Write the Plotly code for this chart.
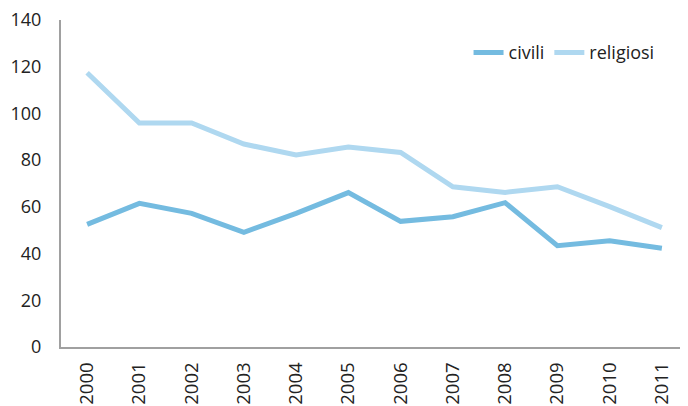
import plotly.graph_objects as go

years = [str(y) for y in range(2000, 2012)]
civili = [52.5, 61.5, 57.2, 49.1, 57.2, 66.1, 53.8, 55.8, 61.8, 43.4, 45.5, 42.3]
religiosi = [117.4, 95.9, 95.9, 86.9, 82.2, 85.6, 83.3, 68.6, 66.2, 68.6, 60.1, 51.1]

fig = go.Figure()
fig.add_trace(go.Scatter(x=years, y=civili, name='civili', mode='lines',
                         line=dict(color='#74bbe0', width=5)))
fig.add_trace(go.Scatter(x=years, y=religiosi, name='religiosi', mode='lines',
                         line=dict(color='#afd8f0', width=5)))

# page body has an 8px margin, so the figure is a bit smaller
fig.update_layout(
    width=680, height=398,
    margin=dict(l=53, r=0, t=12, b=59),
    paper_bgcolor='white', plot_bgcolor='white',
    font=dict(family='Open Sans, sans-serif', color='#222', size=18),
    legend=dict(orientation='h', x=0.65, y=0.9, xanchor='left', yanchor='middle',
                font=dict(size=18), itemwidth=30, tracegroupgap=0,
                bgcolor='rgba(0,0,0,0)'),
    xaxis=dict(type='category', range=[-0.5, 11.5], tickangle=-90,
               showline=True, linecolor='#a0a0a0', linewidth=2,
               showgrid=False, ticks='', tickfont=dict(size=18.5),
               automargin=False, ticklabelstandoff=6, ticklabeloverflow='allow'),
    yaxis=dict(range=[0, 140], dtick=20, showline=True, linecolor='#a0a0a0',
               linewidth=2, showgrid=False, zeroline=False, ticks='',
               tickfont=dict(size=18), automargin=False, ticklabelstandoff=14,
               ticklabeloverflow='allow'),
)

fig.write_html("out.html")
